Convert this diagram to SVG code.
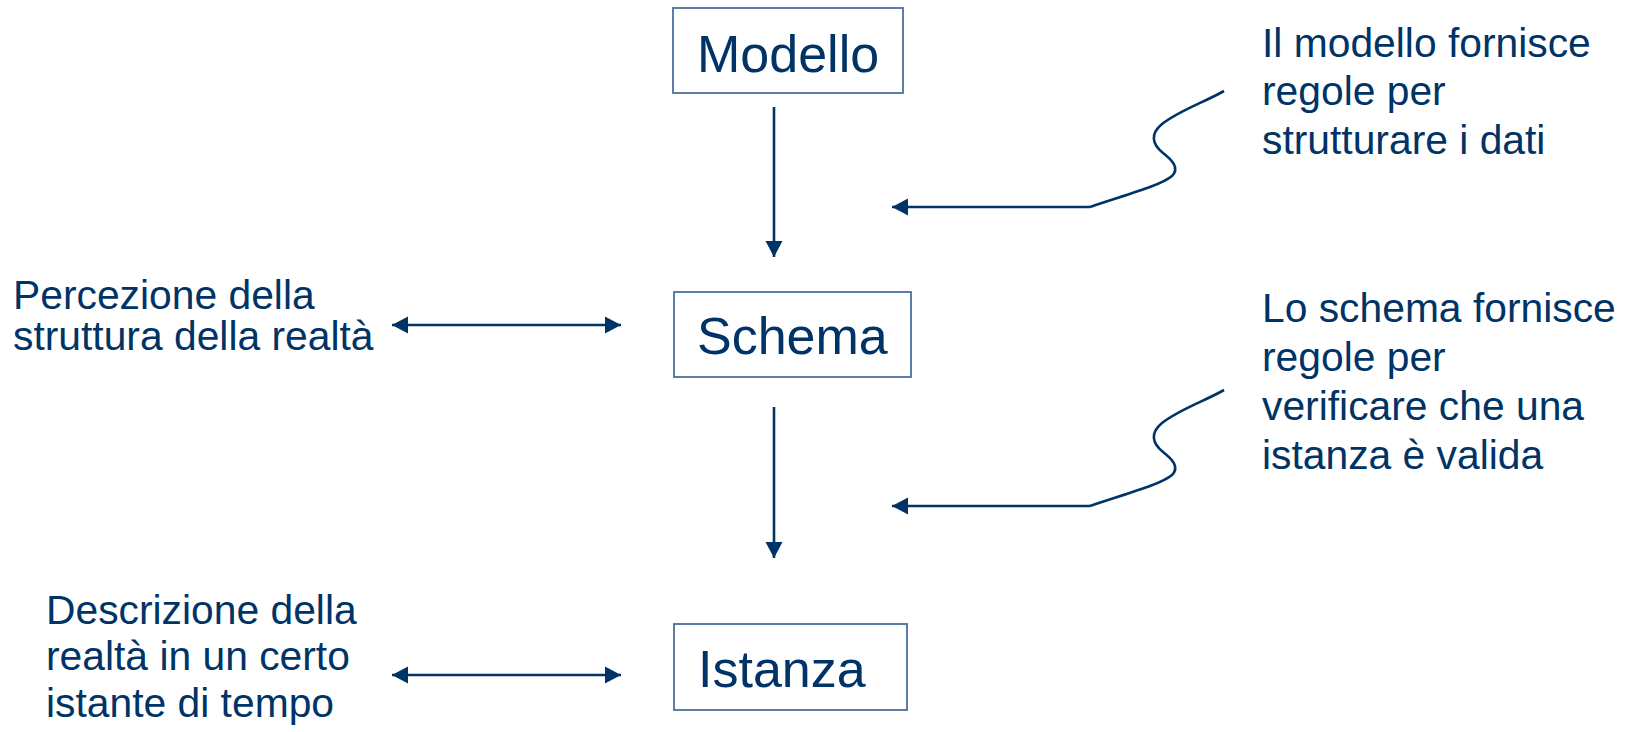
<svg xmlns="http://www.w3.org/2000/svg" width="1630" height="732" viewBox="0 0 1630 732">
<style>
.box{fill:#ffffff;stroke:#4a70a0;stroke-width:1.8}
.lbl{font-family:"Liberation Sans",Arial,sans-serif;fill:#003366}
.big{font-size:52px}
.txt{font-size:40.8px}
.ln{stroke:#003366;stroke-width:2.6;fill:none}
</style>
<defs>
<marker id="ah" markerUnits="userSpaceOnUse" markerWidth="18" markerHeight="18" viewBox="0 0 16 18" refX="16" refY="9" orient="auto-start-reverse">
<path d="M0,0.5 L16,9 L0,17.5 Z" fill="#003366"/>
</marker>
</defs>
<rect width="1630" height="732" fill="#ffffff"/>
<g id="connectors">
<line class="ln" x1="774" y1="107" x2="774" y2="257" marker-end="url(#ah)"/>
<line class="ln" x1="774" y1="407" x2="774" y2="558" marker-end="url(#ah)"/>
<line class="ln" x1="392" y1="325" x2="621" y2="325" marker-start="url(#ah)" marker-end="url(#ah)"/>
<line class="ln" x1="392" y1="675" x2="621" y2="675" marker-start="url(#ah)" marker-end="url(#ah)"/>
<path class="ln" d="M1090,207 L892,207" marker-end="url(#ah)"/>
<path class="ln" d="M1090,207 C1125,195 1160,186 1172,176 C1180,168 1172,160 1163,153 C1152,144 1150,134 1162,124 C1180,110 1205,102 1224,91"/>
<path class="ln" d="M1090,506 L892,506" marker-end="url(#ah)"/>
<path class="ln" d="M1090,506 C1125,494 1160,485 1172,475 C1180,467 1172,459 1163,452 C1152,443 1150,433 1162,423 C1180,409 1205,401 1224,390"/>
</g>
<g id="modello">
<rect class="box" x="673" y="8" width="230" height="85"/>
<text class="lbl big" x="697" y="72">Modello</text>
</g>
<g id="schema">
<rect class="box" x="674" y="292" width="237" height="85"/>
<text class="lbl big" x="697" y="354">Schema</text>
</g>
<g id="istanza">
<rect class="box" x="674" y="624" width="233" height="86"/>
<text class="lbl big" x="698" y="687">Istanza</text>
</g>
<g id="note-percezione">
<text class="lbl txt" x="13" y="309">Percezione della</text>
<text class="lbl txt" x="13" y="350">struttura della realtà</text>
</g>
<g id="note-descrizione">
<text class="lbl txt" x="46" y="624">Descrizione della</text>
<text class="lbl txt" x="46" y="670">realtà in un certo</text>
<text class="lbl txt" x="46" y="717">istante di tempo</text>
</g>
<g id="note-modello">
<text class="lbl txt" x="1262" y="57">Il modello fornisce</text>
<text class="lbl txt" x="1262" y="105">regole per</text>
<text class="lbl txt" x="1262" y="154">strutturare i dati</text>
</g>
<g id="note-schema">
<text class="lbl txt" x="1262" y="322">Lo schema fornisce</text>
<text class="lbl txt" x="1262" y="371">regole per</text>
<text class="lbl txt" x="1262" y="420">verificare che una</text>
<text class="lbl txt" x="1262" y="469">istanza è valida</text>
</g>
</svg>
